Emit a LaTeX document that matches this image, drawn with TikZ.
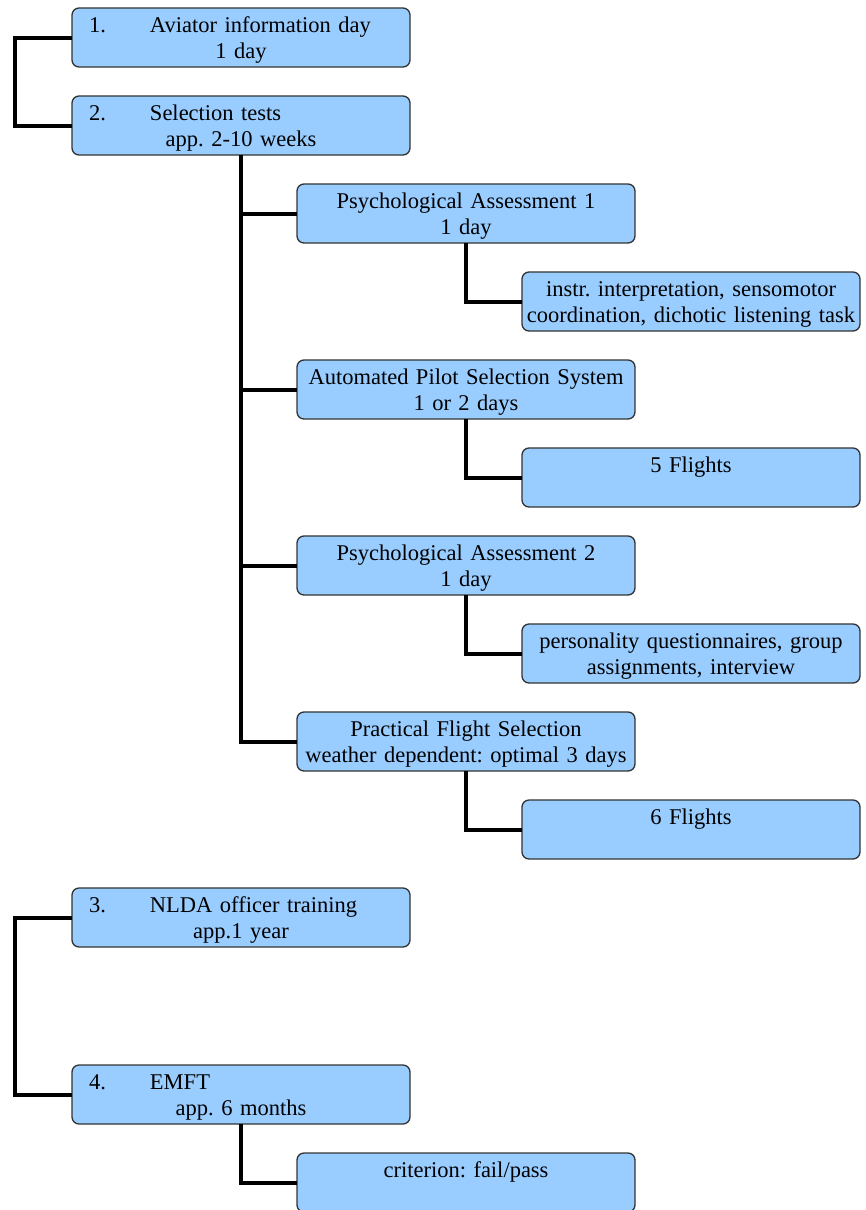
\documentclass[tikz,border=0pt]{standalone}
\usepackage{fontspec}
\setmainfont{Liberation Serif}
\usepackage{tikz}
\usetikzlibrary{positioning}
\definecolor{boxblue}{HTML}{99CCFF}
\tikzset{
  stage/.style={rectangle, rounded corners=7pt, minimum width=338pt, minimum height=59pt, text width=338pt, inner xsep=0pt, inner ysep=0pt, outer sep=0pt, align=center, draw=black!80, line width=1.3pt, fill=boxblue, font=\fontsize{22.5}{24}\selectfont\frenchspacing},
  link/.style={line width=4pt, line join=miter, black}
}
\newcommand{\bs}{\rule[-5pt]{0pt}{25pt}}
\newcommand{\numtitle}[2]{\makebox[338pt][l]{\hspace{17pt}\makebox[61pt][l]{#1}#2}\bs}

\begin{document}
\begin{tikzpicture}[x=1pt, y=-1pt, node distance=29pt]
        \useasboundingbox (0,0) rectangle (865,1210);
        \node (info) [stage, anchor=north west] at (72,8) {\numtitle{1.}{Aviator information day}\\ 1 day\bs};
        \node (sel) [stage, below=of info] {\numtitle{2.}{Selection tests}\\ app. 2-10 weeks\bs};

        % Pruebas de seleccion
        \node (pa1) [stage, below=of sel, xshift=225pt] {Psychological Assessment 1\bs\\ 1 day\bs};
        \node (pa1d) [stage, below=of pa1, xshift=225pt] {instr. interpretation, sensomotor\bs\\ coordination, dichotic listening task\bs};
        \node (apss) [stage, below=of pa1d, xshift=-225pt] {Automated Pilot Selection System\bs\\ 1 or 2 days\bs};
        \node (apssd) [stage, below=of apss, xshift=225pt] {5 Flights\bs\\ \bs};
        \node (pa2) [stage, below=of apssd, xshift=-225pt] {Psychological Assessment 2\bs\\ 1 day\bs};
        \node (pa2d) [stage, below=of pa2, xshift=225pt] {personality questionnaires, group\bs\\ assignments, interview\bs};
        \node (pfs) [stage, below=of pa2d, xshift=-225pt] {Practical Flight Selection\bs\\ weather dependent: optimal 3 days\bs};
        \node (pfsd) [stage, below=of pfs, xshift=225pt] {6 Flights\bs\\ \bs};

        % Formacion posterior
        \node (nlda) [stage, below=of pfsd, xshift=-450pt] {\numtitle{3.}{NLDA officer training}\\ app.1 year\bs};
        \node (emft) [stage, below=118pt of nlda] {\numtitle{4.}{EMFT}\\ app.\ 6 months\bs};
        \node (emftd) [stage, below=of emft, xshift=225pt] {criterion: fail/pass\bs\\ \bs};

        % Conexiones
        \draw [link] (info.west) -- ++(-57,0) |- (sel.west);
        \foreach \n in {pa1,apss,pa2,pfs}
            \draw [link] (sel.south) |- (\n.west);
        \foreach \a/\b in {pa1/pa1d, apss/apssd, pa2/pa2d, pfs/pfsd, emft/emftd}
            \draw [link] (\a.south) |- (\b.west);
        \draw [link] (nlda.west) -- ++(-57,0) |- (emft.west);
    \end{tikzpicture}
\end{document}
